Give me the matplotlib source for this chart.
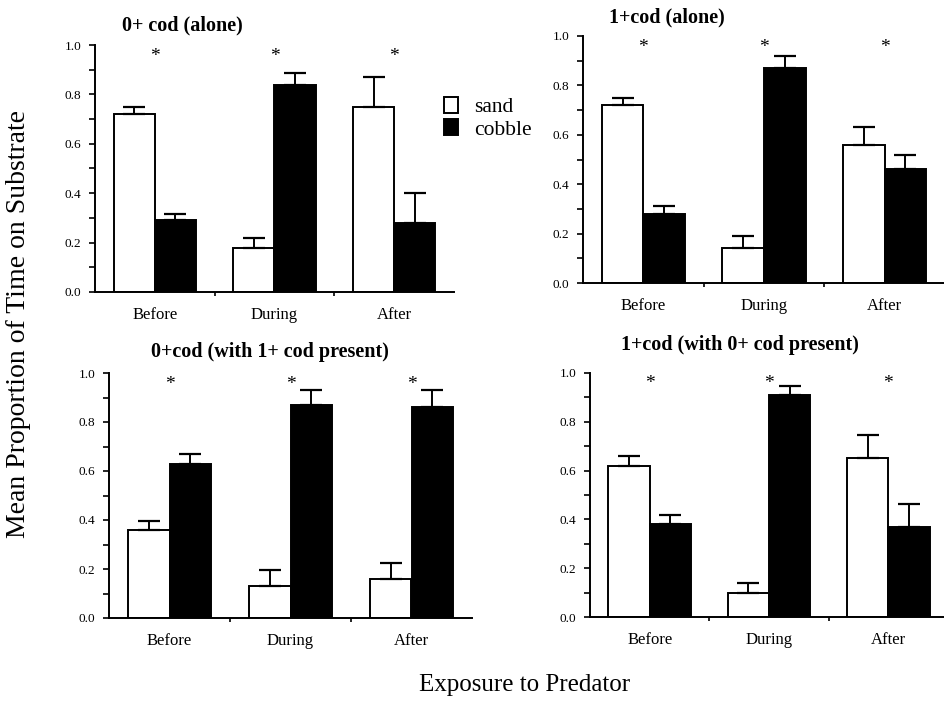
import matplotlib
matplotlib.use("Agg")
import matplotlib.pyplot as plt
from matplotlib.patches import Patch
import numpy as np

periods = ["Before", "During", "After"]
series = ["sand", "cobble"]

titles = [
    "0+ cod (alone)",
    "1+cod (alone)",
    "0+cod (with 1+ cod present)",
    "1+cod (with 0+ cod present)",
]

# mean proportion of time, one list per panel
sand_mean = [
    [0.72, 0.18, 0.75],
    [0.72, 0.14, 0.56],
    [0.36, 0.13, 0.16],
    [0.62, 0.10, 0.65],
]
cobble_mean = [
    [0.29, 0.84, 0.28],
    [0.28, 0.87, 0.46],
    [0.63, 0.87, 0.86],
    [0.38, 0.91, 0.37],
]
# standard errors (upper bar only)
sand_err = [
    [0.03, 0.04, 0.12],
    [0.03, 0.05, 0.07],
    [0.035, 0.065, 0.065],
    [0.04, 0.04, 0.095],
]
cobble_err = [
    [0.025, 0.045, 0.12],
    [0.03, 0.05, 0.06],
    [0.04, 0.06, 0.07],
    [0.04, 0.035, 0.095],
]

SERIF = ["Liberation Serif", "DejaVu Serif"]


def draw_panel(ax, i):
    x = np.arange(len(periods))
    w = 0.345
    ax.bar(x - w / 2, sand_mean[i], w, color="white", edgecolor="black", linewidth=1.4)
    ax.bar(x + w / 2, cobble_mean[i], w, color="black", edgecolor="black", linewidth=1.4)
    ax.errorbar(x - w / 2, sand_mean[i], yerr=[np.zeros(3), sand_err[i]], fmt="none",
                ecolor="black", elinewidth=1.4, capsize=8, capthick=1.6)
    ax.errorbar(x + w / 2, cobble_mean[i], yerr=[np.zeros(3), cobble_err[i]], fmt="none",
                ecolor="black", elinewidth=1.4, capsize=8, capthick=1.6)
    for xi in x:
        ax.text(xi, 0.955, "*", ha="center", va="center", fontsize=14, family=SERIF)

    ax.set_xlim(-0.5, 2.5)
    ax.set_ylim(0, 1.0)
    ax.spines["top"].set_visible(False)
    ax.spines["right"].set_visible(False)
    ax.spines["left"].set_linewidth(1.4)
    ax.spines["bottom"].set_linewidth(1.4)
    ax.set_yticks(np.arange(0, 1.01, 0.2))
    ax.set_yticklabels(["%.1f" % v for v in np.arange(0, 1.01, 0.2)], family=SERIF, fontsize=9.5)
    ax.set_yticks(np.arange(0.1, 1.0, 0.2), minor=True)
    ax.tick_params(axis="y", which="both", direction="out", length=4, width=1.2, pad=6)
    ax.set_xticks(x)
    ax.set_xticklabels(periods, family=SERIF, fontsize=12)
    ax.tick_params(axis="x", which="major", length=0, pad=11)
    ax.set_xticks([0.5, 1.5], minor=True)
    ax.tick_params(axis="x", which="minor", direction="out", length=3, width=1.2)


def main():
    fig = plt.figure(figsize=(9.45, 7.02), dpi=100)
    W, H = 945.0, 702.0
    # axes boxes in pixels: left, top, right, bottom
    boxes = [
        (95, 45, 454, 292),
        (583, 36, 945, 283),
        (109, 373, 472, 618),
        (590, 373, 948, 617),
    ]
    for i, (l, t, r, b) in enumerate(boxes):
        ax = fig.add_axes([l / W, 1 - b / H, (r - l) / W, (b - t) / H])
        draw_panel(ax, i)

    title_pos = [(182, 25), (667, 17), (270, 352), (740, 345)]
    for (tx, ty), title in zip(title_pos, titles):
        fig.text(tx / W, 1 - ty / H, title, ha="center", va="center",
                 fontsize=14.5, fontweight="bold", family=SERIF)

    fig.text(19 / W, 1 - 324 / H, "Mean Proportion of Time on Substrate", rotation=90,
             ha="center", va="center", fontsize=20, family=SERIF)
    fig.text(525 / W, 1 - 685 / H, "Exposure to Predator", ha="center", va="center",
             fontsize=18, family=SERIF)

    handles = [
        Patch(facecolor="white", edgecolor="black", linewidth=1.4, label=series[0]),
        Patch(facecolor="black", edgecolor="black", linewidth=1.4, label=series[1]),
    ]
    fig.legend(handles=handles, loc="upper left", bbox_to_anchor=(433 / W, 1 - 86 / H),
               frameon=False, borderpad=0, handlelength=0.67, handleheight=0.75,
               handletextpad=0.75, labelspacing=0.1,
               prop={"family": SERIF, "size": 15.5})

    fig.savefig("out.png", dpi=100)


if __name__ == "__main__":
    main()
